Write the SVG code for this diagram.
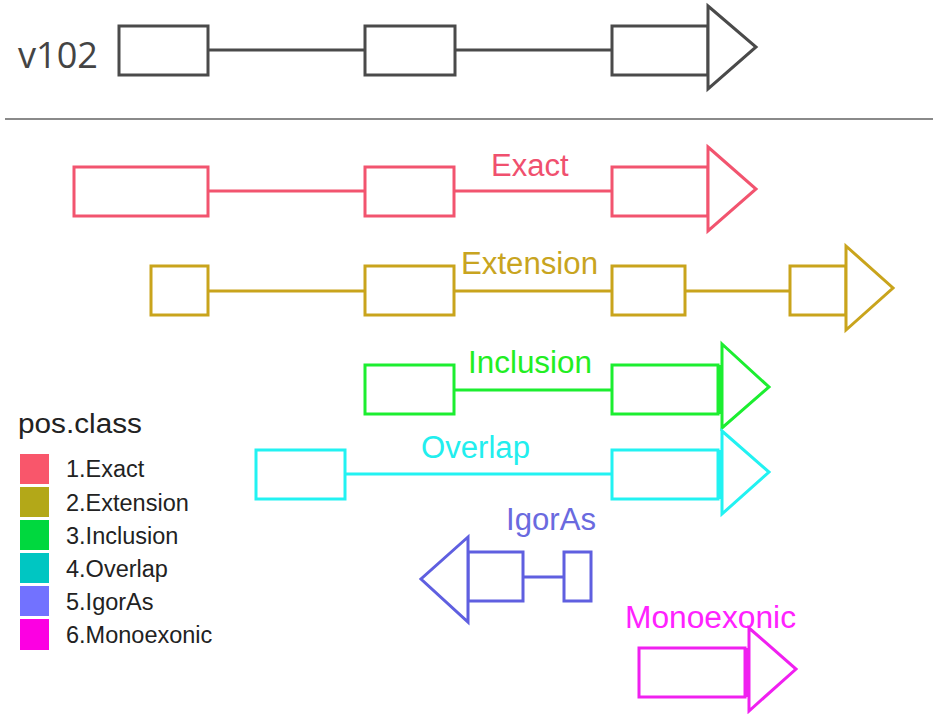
<svg xmlns="http://www.w3.org/2000/svg" width="933" height="714" viewBox="0 0 933 714">
  <style>
    .g { fill: #ffffff; stroke-width: 3; stroke-linejoin: miter; }
    .ln { fill: none; stroke-width: 3; }
    .lbl { font-family: "Liberation Sans", Arial, sans-serif; font-size: 31px; }
    .leg { font-family: "Liberation Sans", Arial, sans-serif; font-size: 23.5px; fill: #222222; }
    .ref { stroke: #4a4a4a; }
    .exact { stroke: #f2546f; }
    .ext { stroke: #c9a41c; }
    .incl { stroke: #1cee30; }
    .ovl { stroke: #22f2f2; }
    .igor { stroke: #5f5fe0; }
    .mono { stroke: #f020f0; }
  </style>
  <rect width="933" height="714" fill="#ffffff"/>

  <!-- reference transcript -->
  <g id="v102">
    <text x="18" y="68" font-family="'Open Sans', sans-serif" font-size="36" fill="#444444" textLength="80" lengthAdjust="spacingAndGlyphs">v102</text>
    <g class="ln ref">
      <line x1="208" y1="50" x2="365" y2="50"/>
      <line x1="455" y1="50" x2="612" y2="50"/>
    </g>
    <rect class="g ref" x="119" y="26" width="89" height="49"/>
    <rect class="g ref" x="365" y="26" width="90" height="49"/>
    <rect class="g ref" x="612" y="26" width="96" height="49"/>
    <polygon class="g ref" points="708,6 756,47 708,89"/>
  </g>

  <line x1="5" y1="119" x2="933" y2="119" stroke="#8a8a8a" stroke-width="2"/>

  <!-- introns -->
  <g id="connectors">
    <g class="ln exact">
      <line x1="208" y1="191" x2="365" y2="191"/>
      <line x1="454" y1="191" x2="612" y2="191"/>
    </g>
    <g class="ln ext">
      <line x1="208" y1="291" x2="365" y2="291"/>
      <line x1="454" y1="291" x2="612" y2="291"/>
      <line x1="685" y1="291" x2="790" y2="291"/>
    </g>
    <line class="ln incl" x1="454" y1="390" x2="612" y2="390"/>
    <line class="ln ovl" x1="345" y1="474" x2="612" y2="474"/>
    <line class="ln igor" x1="523" y1="577" x2="564" y2="577"/>
  </g>

  <g id="exact">
    <rect class="g exact" x="74" y="167" width="134" height="49"/>
    <rect class="g exact" x="365" y="167" width="89" height="49"/>
    <rect class="g exact" x="612" y="167" width="96" height="49"/>
    <polygon class="g exact" points="708,147 756,189 708,231"/>
    <text class="lbl" x="491" y="176" fill="#f0506e">Exact</text>
  </g>

  <g id="extension">
    <rect class="g ext" x="151" y="266" width="57" height="49"/>
    <rect class="g ext" x="365" y="266" width="89" height="49"/>
    <rect class="g ext" x="612" y="266" width="73" height="49"/>
    <rect class="g ext" x="790" y="266" width="56" height="49"/>
    <polygon class="g ext" points="846,246 893,288 846,330"/>
    <text class="lbl" x="461" y="274" fill="#c8a420" textLength="137" lengthAdjust="spacingAndGlyphs">Extension</text>
  </g>

  <g id="inclusion">
    <rect class="g incl" x="365" y="365" width="89" height="49"/>
    <rect class="g incl" x="612" y="365" width="106" height="49"/>
    <polygon class="g incl" points="722,344 769,387 722,428"/>
    <line class="ln incl" x1="720" y1="365" x2="720" y2="414"/>
    <text class="lbl" x="468" y="373" fill="#22ee22" textLength="124" lengthAdjust="spacingAndGlyphs">Inclusion</text>
  </g>

  <g id="overlap">
    <rect class="g ovl" x="256" y="450" width="89" height="49"/>
    <rect class="g ovl" x="612" y="450" width="106" height="49"/>
    <polygon class="g ovl" points="722,431 769,472 722,514"/>
    <line class="ln ovl" x1="720" y1="450" x2="720" y2="499"/>
    <text class="lbl" x="421" y="458" fill="#22eeee" textLength="109" lengthAdjust="spacingAndGlyphs">Overlap</text>
  </g>

  <g id="igoras">
    <rect class="g igor" x="468" y="552" width="55" height="49"/>
    <rect class="g igor" x="564" y="552" width="27" height="49"/>
    <polygon class="g igor" points="468,537 421,579 468,622"/>
    <text class="lbl" x="506" y="530" fill="#6a6adf" textLength="90" lengthAdjust="spacingAndGlyphs">IgorAs</text>
  </g>

  <g id="monoexonic">
    <text class="lbl" x="625" y="628" fill="#ff22ff" textLength="171" lengthAdjust="spacingAndGlyphs">Monoexonic</text>
    <rect class="g mono" x="639" y="648" width="106" height="49"/>
    <polygon class="g mono" points="749,628 796,669 749,711"/>
    <line class="ln mono" x1="747" y1="648" x2="747" y2="697"/>
  </g>

  <!-- legend -->
  <g id="legend">
    <text x="18" y="433" font-family="'Liberation Sans', Arial, sans-serif" font-size="27" fill="#222222" textLength="124" lengthAdjust="spacingAndGlyphs">pos.class</text>
    <rect x="20" y="454" width="29" height="30" fill="#f9566b"/>
    <rect x="20" y="487" width="29" height="30" fill="#b3a818"/>
    <rect x="20" y="520" width="29" height="30" fill="#00d83e"/>
    <rect x="20" y="553" width="29" height="30" fill="#00c6c2"/>
    <rect x="20" y="586" width="29" height="30" fill="#7272ff"/>
    <rect x="20" y="619" width="29" height="31" fill="#fc00e2"/>
    <text class="leg" x="66" y="477">1.Exact</text>
    <text class="leg" x="66" y="511">2.Extension</text>
    <text class="leg" x="66" y="544">3.Inclusion</text>
    <text class="leg" x="66" y="577">4.Overlap</text>
    <text class="leg" x="66" y="610">5.IgorAs</text>
    <text class="leg" x="66" y="643">6.Monoexonic</text>
  </g>
</svg>
